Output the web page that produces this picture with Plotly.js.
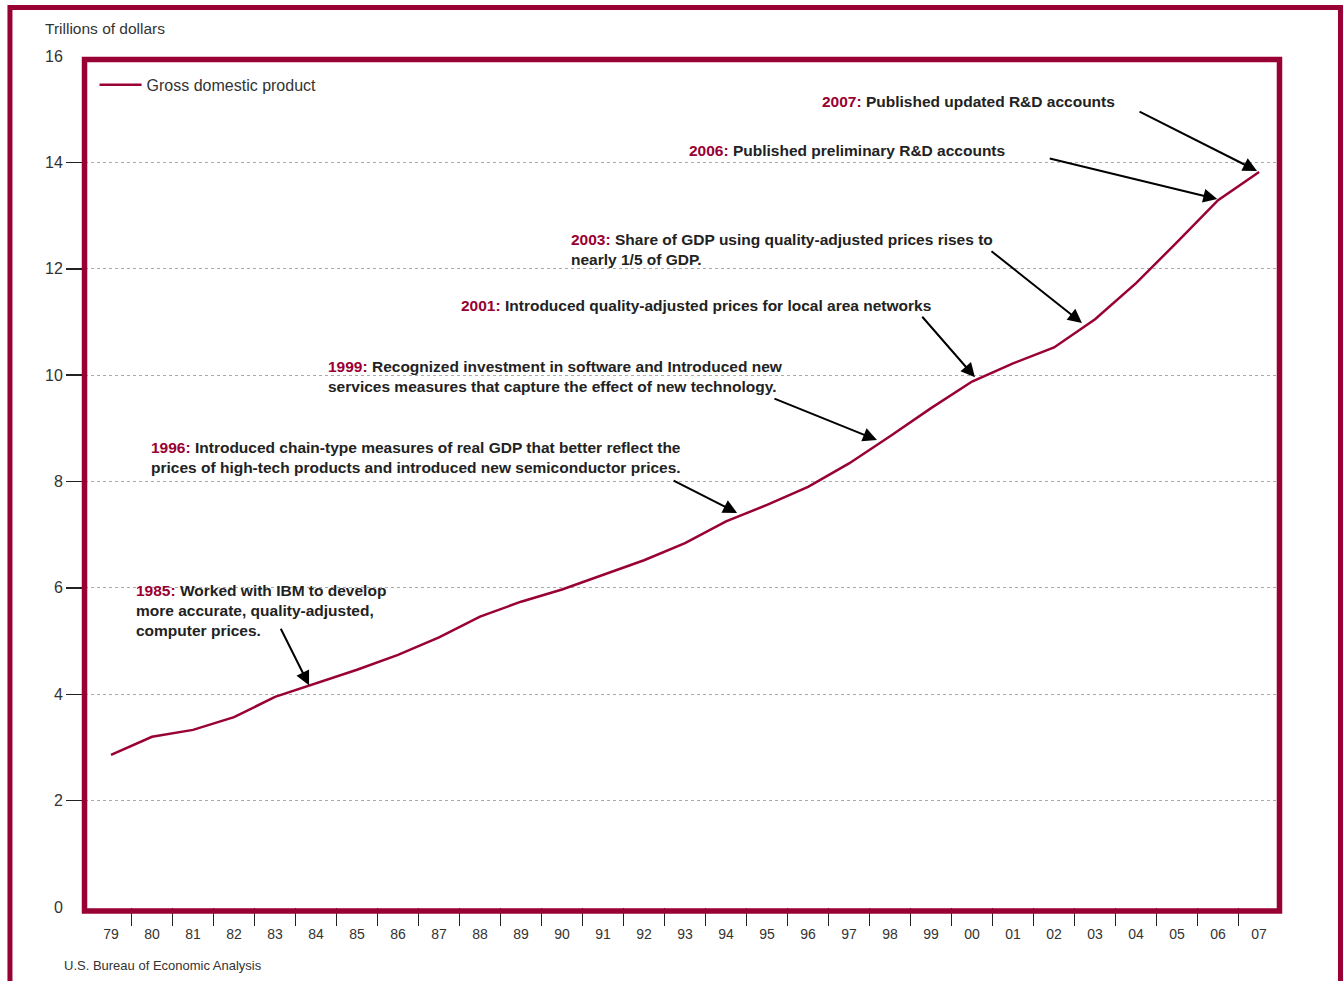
<!DOCTYPE html>
<html>
<head>
<meta charset="utf-8">
<script src="https://cdn.plot.ly/plotly-3.0.1.min.js"></script>
<style>
  html, body { margin: 0; padding: 0; background: #ffffff; }
  #chart { width: 1343px; height: 981px; }
</style>
</head>
<body>
<div id="chart"></div>
<script>
// ---- data ----
const years = ["79","80","81","82","83","84","85","86","87","88","89","90","91","92","93","94","95","96","97","98","99","00","01","02","03","04","05","06","07"];
const gdp = [2.86, 3.20, 3.33, 3.57, 3.95, 4.21, 4.46, 4.74, 5.07, 5.46, 5.74, 5.97, 6.24, 6.52, 6.84, 7.25, 7.56, 7.90, 8.34, 8.85, 9.38, 9.88, 10.22, 10.52, 11.05, 11.73, 12.50, 13.29, 13.82];
const yLabelVals = [0, 2, 4, 6, 8, 10, 12, 14, 16];
const yTickMarkVals = [2, 4, 6, 8, 10, 12, 14];
const seriesName = "Gross domestic product";

const notes = [
  {year: "2007:", text: "Published updated R&D accounts"},
  {year: "2006:", text: "Published preliminary R&D accounts"},
  {year: "2003:", text: "Share of GDP using quality-adjusted prices rises to<br>nearly 1/5 of GDP."},
  {year: "2001:", text: "Introduced quality-adjusted prices for local area networks"},
  {year: "1999:", text: "Recognized investment in software and Introduced new<br>services measures that capture the effect of new technology."},
  {year: "1996:", text: "Introduced chain-type measures of real GDP that better reflect the<br>prices of high-tech products and introduced new semiconductor prices."},
  {year: "1985:", text: "Worked with IBM to develop<br>more accurate, quality-adjusted,<br>computer prices."}
];

// ---- styling / layout ----
const MAROON = "#990033";
const TEXT = "#333333";
const xRange = [-0.634, 28.51];
const boundaryVals = years.slice(1).map((_, i) => i + 0.5);
const yearIndex = years.map((_, i) => i);

// note text positions (paper coords) and arrow geometry
const notePos = [
  {x: 0.6151, y: 0.9460},
  {x: 0.5038, y: 0.8884},
  {x: 0.4050, y: 0.7726},
  {x: 0.3130, y: 0.7074},
  {x: 0.2017, y: 0.6234},
  {x: 0.0536, y: 0.5282},
  {x: 0.0410, y: 0.3484}
];
const arrows = [
  {x: 27.95, y: 13.84, ax: -119, ay: -60},
  {x: 26.98, y: 13.31, ax: -169, ay: -41},
  {x: 23.68, y: 10.98, ax: -92, ay: -73},
  {x: 21.07, y: 9.96, ax: -54, ay: -62},
  {x: 18.68, y: 8.78, ax: -104, ay: -42},
  {x: 15.27, y: 7.41, ax: -65, ay: -33},
  {x: 4.83, y: 4.17, ax: -29, ay: -58}
];

const annFont = {family: "'Liberation Sans', Arial, sans-serif", size: 15.5, color: "#222222"};

const annotations = [];
notes.forEach((n, i) => {
  annotations.push({
    xref: "paper", yref: "paper", x: notePos[i].x, y: notePos[i].y,
    xanchor: "left", yanchor: "middle", align: "left", showarrow: false,
    text: "<b><span style='color:" + MAROON + "'>" + n.year + "</span> " + n.text + "</b>",
    font: annFont
  });
  const a = arrows[i];
  annotations.push({
    xref: "x", yref: "y", x: a.x, y: a.y, ax: a.ax, ay: a.ay,
    text: "", showarrow: true, arrowhead: 2, arrowsize: 1.4, arrowwidth: 2,
    arrowcolor: "#000000", standoff: 0, startstandoff: 0
  });
});
annotations.push({
  xref: "paper", yref: "paper", x: -0.0351, y: 1.0329, xanchor: "left", yanchor: "middle",
  showarrow: false, text: "Trillions of dollars",
  font: {family: "'Liberation Sans', Arial, sans-serif", size: 15.5, color: TEXT}
});
annotations.push({
  xref: "paper", yref: "paper", x: -0.0193, y: -0.0693, xanchor: "left", yanchor: "middle",
  showarrow: false, text: "U.S. Bureau of Economic Analysis",
  font: {family: "'Liberation Sans', Arial, sans-serif", size: 13, color: TEXT}
});

const trace = {
  type: "scatter", mode: "lines", name: seriesName,
  x: years, y: gdp,
  line: {color: MAROON, width: 2.5},
  hoverinfo: "x+y"
};
// invisible companion trace so the tick-mark axes (x2/y2) are drawn
const tickTrace = {
  type: "scatter", mode: "lines", x: yearIndex, y: gdp,
  xaxis: "x2", yaxis: "y2", opacity: 0, showlegend: false, hoverinfo: "skip",
  line: {color: "rgba(0,0,0,0)", width: 0}
};

const layout = {
  width: 1343, height: 981,
  margin: {l: 85, r: 63, t: 56, b: 74},
  paper_bgcolor: "#ffffff", plot_bgcolor: "#ffffff",
  font: {family: "'Liberation Sans', Arial, sans-serif", color: TEXT},
  showlegend: true,
  legend: {
    x: 0.008, y: 0.966, xanchor: "left", yanchor: "middle",
    bgcolor: "rgba(0,0,0,0)", borderwidth: 0, itemwidth: 42,
    font: {family: "'Liberation Sans', Arial, sans-serif", size: 16, color: TEXT}
  },
  xaxis: {
    type: "category", range: xRange, fixedrange: true,
    showgrid: false, zeroline: false, showline: false,
    tickvals: years, ticktext: years,
    ticks: "outside", ticklen: 14, tickcolor: "rgba(0,0,0,0)",
    tickfont: {size: 14, color: TEXT}
  },
  xaxis2: {
    type: "linear", overlaying: "x", anchor: "y", range: xRange,
    showgrid: false, zeroline: false, showline: false,
    tickvals: boundaryVals, showticklabels: false,
    ticks: "outside", ticklen: 18, tickwidth: 1.5, tickcolor: "#222222"
  },
  yaxis: {
    range: [0, 16], fixedrange: true,
    tickvals: yLabelVals, ticks: "outside", ticklen: 18, tickcolor: "rgba(0,0,0,0)",
    showgrid: true, gridcolor: "#a0a0a0", griddash: "dot", gridwidth: 0.9,
    zeroline: false, showline: false,
    tickfont: {size: 16, color: TEXT}
  },
  yaxis2: {
    range: [0, 16], overlaying: "y", anchor: "x", side: "left",
    tickvals: yTickMarkVals, showticklabels: false,
    ticks: "outside", ticklen: 18, tickwidth: 1.5, tickcolor: "#222222",
    showgrid: false, zeroline: false, showline: false
  },
  shapes: [
    {type: "rect", xref: "paper", yref: "paper", x0: -0.0004, x1: 0.99958, y0: -0.0047, y1: 0.9959,
     line: {color: MAROON, width: 5.5}, layer: "above"},
    {type: "rect", xref: "paper", yref: "paper", x0: -0.0628, x1: 1.0506, y0: -0.12, y1: 1.057,
     line: {color: MAROON, width: 5}, layer: "above"}
  ],
  annotations: annotations
};

Plotly.newPlot("chart", [trace, tickTrace], layout, {displayModeBar: false, staticPlot: true});
</script>
</body>
</html>
